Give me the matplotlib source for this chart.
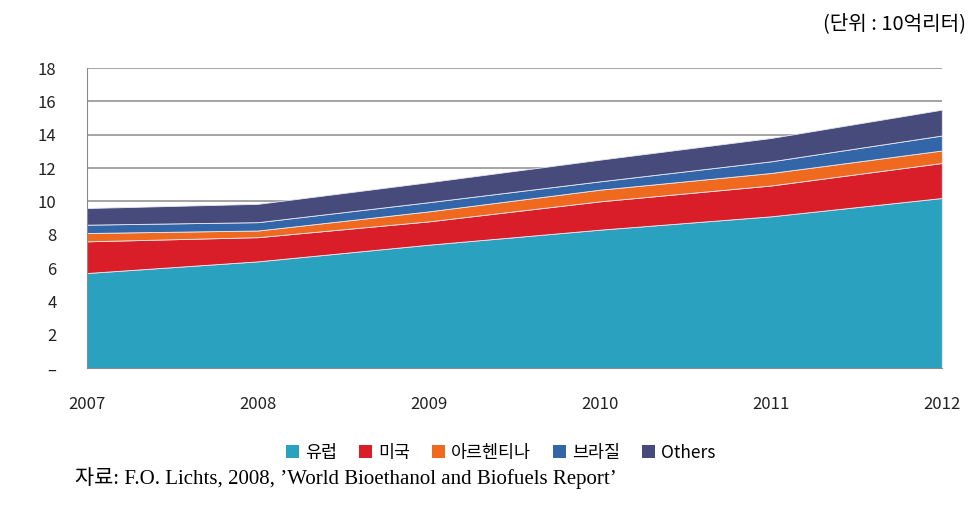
import numpy as np
import matplotlib.pyplot as plt
from matplotlib.patches import Patch

plt.rcParams['font.family'] = ['Noto Sans CJK KR', 'DejaVu Sans']

years = [2007, 2008, 2009, 2010, 2011, 2012]
europe = [5.7, 6.4, 7.4, 8.3, 9.1, 10.2]
usa = [1.9, 1.45, 1.4, 1.7, 1.85, 2.1]
argentina = [0.5, 0.4, 0.6, 0.7, 0.75, 0.75]
brazil = [0.5, 0.5, 0.55, 0.5, 0.7, 0.9]
others = [1.0, 1.1, 1.2, 1.3, 1.4, 1.55]

labels = ['유럽', '미국', '아르헨티나', '브라질', 'Others']
colors = ['#2aa1bf', '#da1e29', '#ef6a1f', '#3366a8', '#464b7c']
yticks = [0, 2, 4, 6, 8, 10, 12, 14, 16, 18]
ytick_labels = ['–', '2', '4', '6', '8', '10', '12', '14', '16', '18']

fig = plt.figure(figsize=(9.78, 5.24), dpi=100)
ax = fig.add_axes([0.089, 0.2977, 0.874, 0.5725])

ax.stackplot(years, europe, usa, argentina, brazil, others,
             colors=colors, edgecolor='#e8e8f0', linewidth=0.6, zorder=2)

ax.set_xlim(2007, 2012)
ax.set_ylim(0, 18)
ax.set_yticks(yticks)
ax.set_yticklabels(ytick_labels)
ax.set_xticks(years)
ax.yaxis.grid(True, color='#8c8c8c', linewidth=1.1, zorder=1)
ax.set_axisbelow(True)
for s in ['top', 'right']:
    ax.spines[s].set_visible(False)
ax.spines['left'].set_color('#8c8c8c')
ax.spines['bottom'].set_color('#8c8c8c')
ax.tick_params(axis='both', length=0, labelsize=12, colors='#222222')
ax.tick_params(axis='y', pad=22)
ax.tick_params(axis='x', pad=20)

fig.text(0.988, 0.955, '(단위 : 10억리터)', ha='right', va='center', fontsize=14.5)

handles = [Patch(facecolor=c, edgecolor='none') for c in colors]
fig.legend(handles, labels, loc='center', bbox_to_anchor=(0.512, 0.136), ncol=5,
           frameon=False, fontsize=12.5, handlelength=0.75, handleheight=0.75,
           handletextpad=0.35, columnspacing=1.25)

fig.text(0.077, 0.088, "자료: F.O. Lichts, 2008, ’World Bioethanol and Biofuels Report’",
         ha='left', va='center', fontsize=15,
         family=['Liberation Serif', 'Noto Sans CJK KR'])

fig.savefig('out.png', dpi=100)
